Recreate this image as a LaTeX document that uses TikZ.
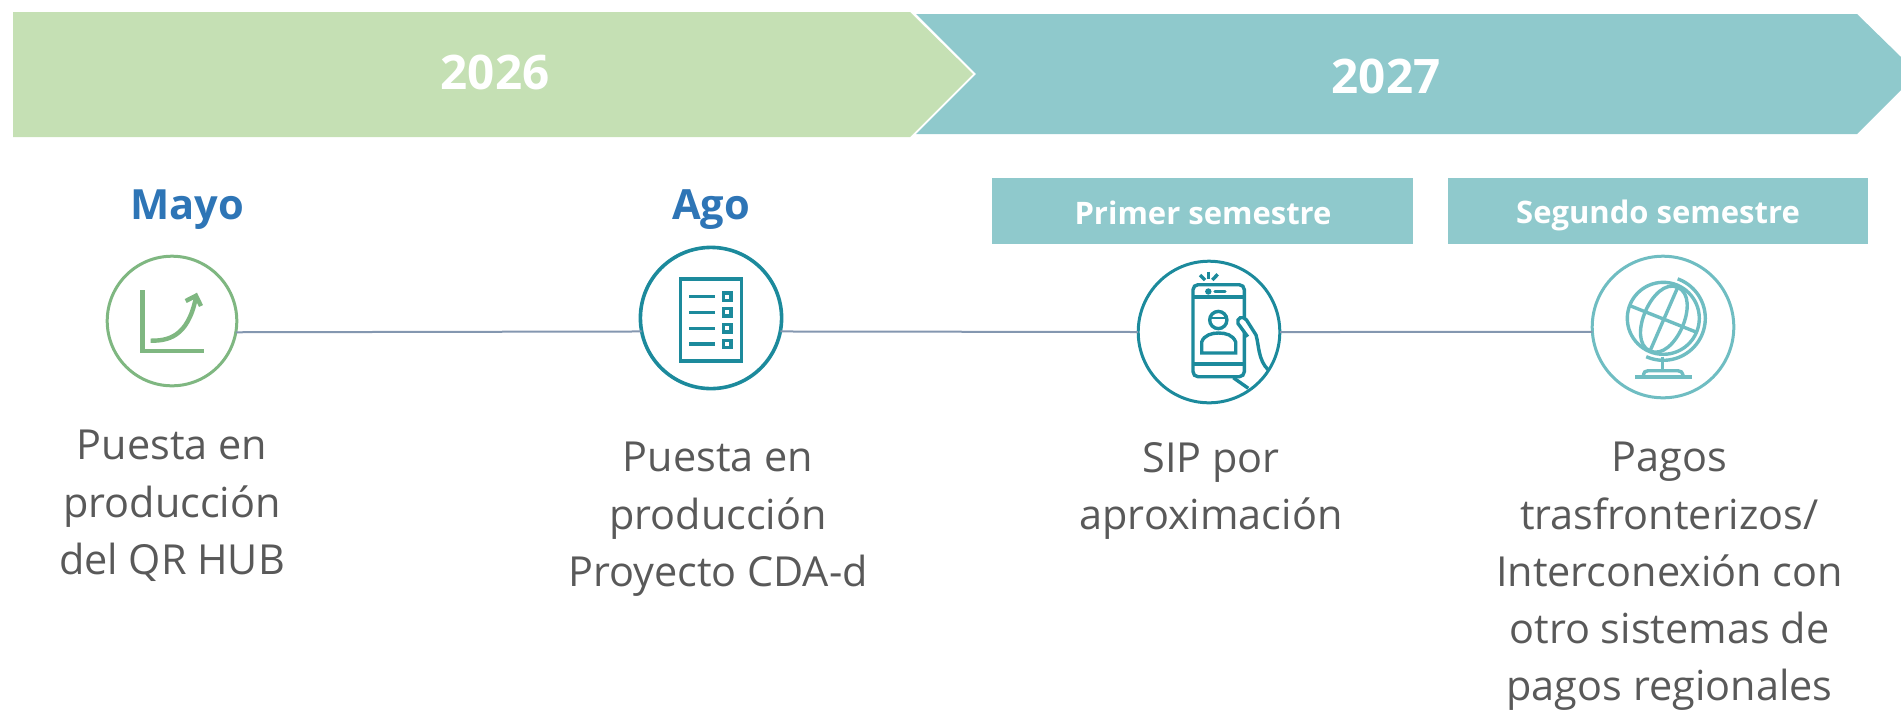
\documentclass[tikz,border=0pt]{standalone}
\usepackage{fontspec}
\setmainfont{Open Sans}
\usepackage{xcolor}
\definecolor{verdeclaro}{HTML}{C5E0B4}
\definecolor{verdeicono}{HTML}{7FB781}
\definecolor{tealclaro}{HTML}{8FC9CC}
\definecolor{tealoscuro}{HTML}{1C8A9C}
\definecolor{tealglobo}{HTML}{6FBDC2}
\definecolor{azulmes}{HTML}{2E75B6}
\definecolor{gristexto}{HTML}{595959}
\definecolor{grislinea}{HTML}{8497B0}

\begin{document}
\begin{tikzpicture}[x=0.5pt,y=-0.5pt,
    anio/.style={text=white,font=\bfseries\fontsize{23.8}{27}\selectfont},
    mes/.style={text=azulmes,font=\bfseries\fontsize{20.8}{25}\selectfont},
    semestre/.style={text=white,font=\bfseries\fontsize{15.5}{19}\selectfont},
    cuerpo/.style={text=gristexto,align=center,anchor=north,inner sep=0pt,font=\fontsize{20.7}{28.6}\selectfont},
    circulo/.style={circle,draw,fill=white,inner sep=0pt,outer sep=0pt,minimum size=#1},
    linea/.style={grislinea,line width=1pt},
    trazo/.style={line width=1.7pt}]

    \useasboundingbox (0,0) rectangle (1901,709);

    % Bandas de los anios
    \fill[verdeclaro] (13,12) -- (910,12) -- (973,74) -- (910,137) -- (13,137) -- cycle;
    \fill[tealclaro] (916,14) -- (1857,14) -- (1901,57) -- (1901,90) -- (1857,134) -- (916,134) -- (976,74) -- cycle;
    \node[anio] (anio26) at (495,72) {2026};
    \node[anio] (anio27) at (1386,76) {2027};

    % Semestres
    \fill[tealclaro] (992,178) rectangle (1413,244);
    \fill[tealclaro] (1448,178) rectangle (1868,244);
    \node[semestre] (primer) at (1203,213) {Primer semestre};
    \node[semestre] (segundo) at (1658,215) {Segundo semestre};

    % Meses
    \node[mes] (mayo) at (187,210) {Mayo};
    \node[mes] (ago) at (711,210) {Ago};

    % Circulos
    \node[circulo=64.8pt,draw=verdeicono,line width=1.5pt] (hitoA) at (172,321) {};
    \node[circulo=70.6pt,draw=tealoscuro,line width=1.8pt] (hitoB) at (711,318) {};
    \node[circulo=70.8pt,draw=tealoscuro,line width=1.5pt] (hitoC) at (1209,332) {};
    \node[circulo=70.8pt,draw=tealglobo,line width=1.5pt] (hitoD) at (1663,327) {};

    % Linea de tiempo
    \draw[linea] (hitoA.-10) -- (hitoB.191);
    \draw[linea] (hitoB.-11) -- (hitoC.180);
    \draw[linea] (hitoC.0) -- (hitoD.184);

    % Icono grafica
    \begin{scope}[verdeicono,trazo]
        \draw[line width=2.2pt] (142.3,290) -- (142.3,351) -- (204,351);
        \draw[line width=2.2pt] (150.7,340.7) .. controls (167,340.7) and (188,338) .. (196,297);
        \draw[line width=2.2pt] (185.7,301) -- (196,295.7) -- (201,306);
    \end{scope}

    % Icono lista
    \begin{scope}[tealoscuro,trazo]
        \draw (680.7,279) rectangle (741.3,361);
        \foreach \y in {296.7,312.3,328.3,344} {
            \draw (689.3,\y) -- (714.7,\y);
            \draw (723.6,\y-3.7) rectangle (731,\y+3.7);
        }
    \end{scope}

    % Icono telefono
    \begin{scope}[tealoscuro,trazo]
        \draw[rounded corners=2.5pt] (1193,284.7) rectangle (1244.3,376.7);
        \draw (1193,297) -- (1244.3,297);
        \draw (1193,364) -- (1244.3,364);
        \fill (1208.3,291.5) circle (1.6pt);
        \draw[line cap=round] (1215,291.5) -- (1225,291.5);
        \draw (1208.3,271.5) -- (1208.3,279);
        \draw (1200,275) -- (1205,280);
        \draw (1217.7,274.3) -- (1212.3,280);
        \draw (1218.3,320) circle (4.3pt);
        \draw[line width=1pt] (1210.5,317.5) -- (1226,317.5);
        \draw (1201.7,353) -- (1201.7,342) .. controls (1204,335) and (1212,333) .. (1218.5,333) .. controls (1226,333) and (1233,335) .. (1235.7,342) -- (1235.7,353) -- cycle;
        \draw[fill=white] (1247.7,336.7) -- (1238,323.5) .. controls (1236,318) and (1243,315) .. (1246.5,320) -- (1256,335) .. controls (1259,345) and (1258,360) .. (1268.3,370);
        \draw (1233.3,377.7) -- (1248.3,388.3);
    \end{scope}

    % Icono globo
    \begin{scope}[tealglobo,trazo]
        \draw (1663.3,318.3) circle (18pt);
        \draw (1677.7,287.3) -- (1650,351);
        \draw (1630,305.7) -- (1696.7,332.3);
        \draw (1677.7,287.3) .. controls (1653.2,276.6) and (1625.5,340.3) .. (1650,351);
        \draw (1677.7,287.3) .. controls (1702.2,298) and (1674.5,361.7) .. (1650,351);
        \draw[smooth] plot[domain=-70:114,samples=30] ({1663.3+42*cos(\x)},{318.3+42*sin(\x)});
        \draw (1662.7,357) -- (1662.7,371);
        \draw (1635,377) -- (1691.7,377);
        \draw (1643.3,376) .. controls (1644,372) and (1645,370.7) .. (1648,370.7) -- (1678,370.7) .. controls (1681,370.7) and (1682,372) .. (1683.3,376);
    \end{scope}

    % Textos
    \node[cuerpo] (txtA) at (172,430) {Puesta en\\producción\\del QR HUB};
    \node[cuerpo] (txtB) at (718,442) {Puesta en\\producción\\Proyecto CDA-d};
    \node[cuerpo] (txtC) at (1211,442) {SIP por\\aproximación};
    \node[cuerpo] (txtD) at (1669.5,442) {Pagos\\trasfronterizos/\\Interconexión con\\otro sistemas de\\pagos regionales};

\end{tikzpicture}
\end{document}
